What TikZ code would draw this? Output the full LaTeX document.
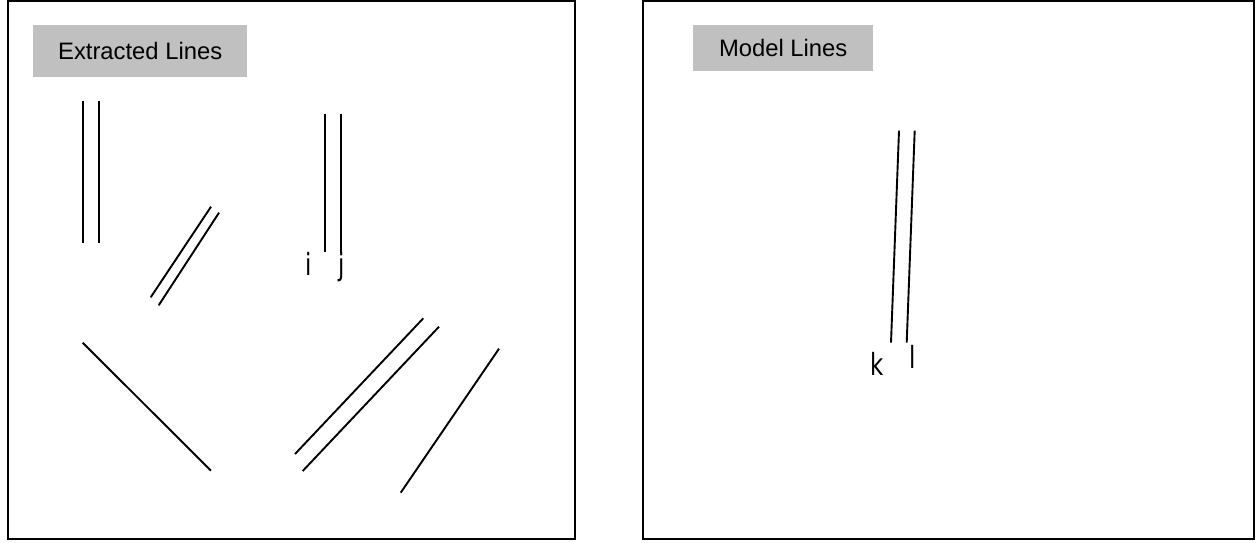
\documentclass[tikz,border=0pt]{standalone}
\usepackage{fontspec}
\setmainfont{Liberation Sans}
\newfontfamily\lblfont{DejaVu Sans}
\definecolor{titlegray}{HTML}{C0C0C0}
\begin{document}
\begin{tikzpicture}[x=1pt,y=-1pt,
  frame/.style={draw=black,line width=2pt},
  titlebox/.style={fill=titlegray,draw=none,inner sep=0pt,anchor=north west,font=\fontsize{23.8}{26}\selectfont},
  seg/.style={draw=black,line width=1.9pt},
  lbl/.style={inner sep=0pt,anchor=base,font=\lblfont\fontsize{30.5}{33}\selectfont,xscale=0.75}]
\useasboundingbox (0,0) rectangle (1256,542);
% frames
\draw[frame] (8,1) rectangle (574.5,539);
\draw[frame] (643,1) rectangle (1254,539);
% titles
\node[titlebox,minimum width=214pt,minimum height=52pt] (t1) at (33,25) {Extracted Lines};
\node[titlebox,minimum width=180pt,minimum height=46pt] (t2) at (693,25) {Model Lines};
% extracted lines
\draw[seg] (83,101) -- (83,243);
\draw[seg] (99,101) -- (99,243);
\draw[seg] (150.7,297.3) -- (211,206.7);
\draw[seg] (158.7,305.3) -- (219,212.7);
\draw[seg] (325,114) -- (325,251.7);
\draw[seg] (340.7,114) -- (340.7,253);
\draw[seg] (82.7,342.7) -- (211,470.7);
\draw[seg] (295,454) -- (423.3,318.3);
\draw[seg] (302.7,471) -- (439,326.7);
\draw[seg] (400.7,492.7) -- (499,348.7);
% model lines
\draw[seg] (899,130.7) -- (891,342.7);
\draw[seg] (914.7,130.7) -- (906.7,342.7);
% labels
\node[lbl] (li) at (309,275) {i};
\node[lbl] (lj) at (342,275) {j};
\node[lbl] (lk) at (877,375) {k};
\node[lbl] (ll) at (913,368.3) {l};
\end{tikzpicture}
\end{document}
